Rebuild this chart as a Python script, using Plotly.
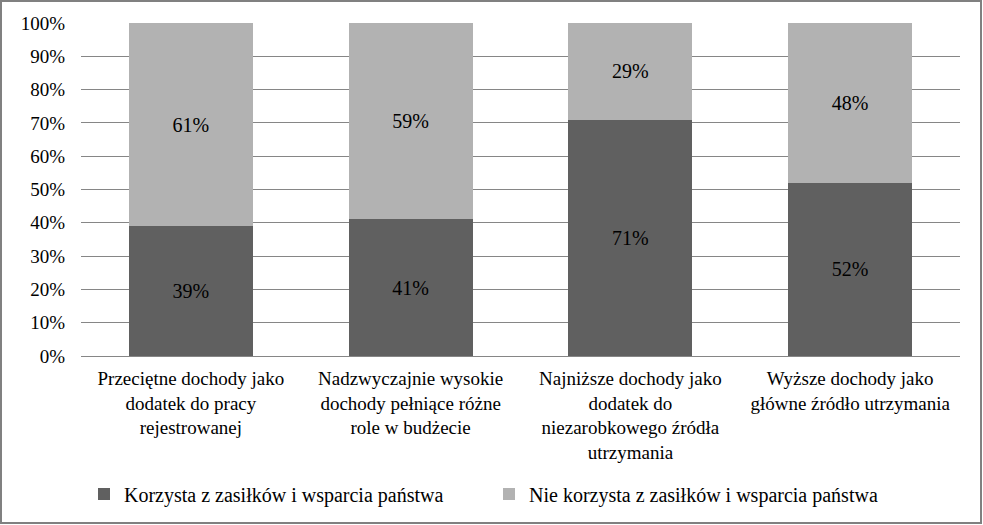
import plotly.graph_objects as go

categories = [
    "Przeciętne dochody jako<br>dodatek do pracy<br>rejestrowanej",
    "Nadzwyczajnie wysokie<br>dochody pełniące różne<br>role w budżecie",
    "Najniższe dochody jako<br>dodatek do<br>niezarobkowego źródła<br>utrzymania",
    "Wyższe dochody jako<br>główne źródło utrzymania",
]
korzysta = [39, 41, 71, 52]
nie_korzysta = [61, 59, 29, 48]
series_names = ["Korzysta z zasiłków i wsparcia państwa",
                "Nie korzysta z zasiłków i wsparcia państwa"]
tick_vals = [0, 10, 20, 30, 40, 50, 60, 70, 80, 90, 100]
tick_text = [f"{v}%" for v in tick_vals]

FONT = "Liberation Serif, Times New Roman, serif"

fig = go.Figure()
fig.add_trace(go.Bar(
    x=categories, y=korzysta, name=series_names[0],
    marker=dict(color="#606060", line=dict(width=0)),
    text=[f"{v}%" for v in korzysta], textposition="inside",
    insidetextanchor="middle", textfont=dict(color="black", size=20, family=FONT),
))
fig.add_trace(go.Bar(
    x=categories, y=nie_korzysta, name=series_names[1],
    marker=dict(color="#b2b2b2", line=dict(width=0)),
    text=[f"{v}%" for v in nie_korzysta], textposition="inside",
    insidetextanchor="middle", textfont=dict(color="black", size=20, family=FONT),
))

W, H = 983, 525
L, R, T, B = 81, 23, 23, 169
pw, ph = W - L - R, H - T - B

def px_x(p):
    return (p - L) / pw

def px_y(p):
    return (H - B - p) / ph

fig.update_layout(
    width=W, height=H, barmode="stack", bargap=0.435,
    margin=dict(l=L, r=R, t=T, b=B),
    paper_bgcolor="white", plot_bgcolor="white",
    font=dict(family=FONT, size=19, color="black"),
    uniformtext=dict(mode="show", minsize=20),
    xaxis=dict(showgrid=False, showline=False, ticks="", tickfont=dict(size=19, family=FONT),
               tickangle=0, ticklabelstandoff=9),
    yaxis=dict(range=[0, 100], tickvals=tick_vals, ticktext=tick_text,
               showgrid=True, gridcolor="#868686", gridwidth=1,
               showline=False, zeroline=True, zerolinecolor="#868686",
               zerolinewidth=1, ticks="", tickfont=dict(size=19, family=FONT),
               ticklabelstandoff=15),
    legend=dict(orientation="h", x=px_x(84), xanchor="left",
                y=px_y(494), yanchor="middle", font=dict(size=20, family=FONT),
                entrywidth=360, traceorder="normal", itemwidth=30,
                bgcolor="rgba(0,0,0,0)"),
    showlegend=True,
    shapes=[dict(type="rect", xref="paper", yref="paper",
                 x0=px_x(1), x1=px_x(981), y0=px_y(523), y1=px_y(1),
                 line=dict(color="#808080", width=2), fillcolor="rgba(0,0,0,0)",
                 layer="above")],
)

fig.write_html("out.html", config={"displayModeBar": False},
               post_script="document.body.style.margin='0';document.body.style.overflow='hidden';")
